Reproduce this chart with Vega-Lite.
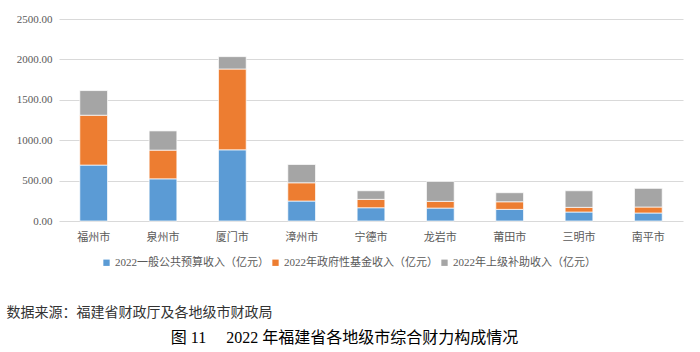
{
  "$schema": "https://vega.github.io/schema/vega-lite/v6.json",
  "width": 624,
  "height": 202,
  "autosize": "none",
  "padding": {"left": 59, "top": 19, "right": 17, "bottom": 131},
  "background": "white",
  "config": {"view": {"stroke": null}, "font": "Liberation Serif"},
  "title": {
    "text": "图 11\u00a0\u00a0\u00a0\u00a0 2022 年福建省各地级市综合财力构成情况",
    "orient": "bottom",
    "anchor": "middle",
    "frame": "bounds",
    "font": "Liberation Serif, Noto Sans CJK SC",
    "fontSize": 16,
    "fontWeight": "normal",
    "color": "#000000",
    "offset": 11
  },
  "data": {
    "values": [
      {"city": "福州市", "type": "2022一般公共预算收入（亿元）", "k": 1, "value": 692},
      {"city": "福州市", "type": "2022年政府性基金收入（亿元）", "k": 2, "value": 617},
      {"city": "福州市", "type": "2022年上级补助收入（亿元）", "k": 3, "value": 305},
      {"city": "泉州市", "type": "2022一般公共预算收入（亿元）", "k": 1, "value": 522},
      {"city": "泉州市", "type": "2022年政府性基金收入（亿元）", "k": 2, "value": 355},
      {"city": "泉州市", "type": "2022年上级补助收入（亿元）", "k": 3, "value": 238},
      {"city": "厦门市", "type": "2022一般公共预算收入（亿元）", "k": 1, "value": 881},
      {"city": "厦门市", "type": "2022年政府性基金收入（亿元）", "k": 2, "value": 1000},
      {"city": "厦门市", "type": "2022年上级补助收入（亿元）", "k": 3, "value": 153},
      {"city": "漳州市", "type": "2022一般公共预算收入（亿元）", "k": 1, "value": 247},
      {"city": "漳州市", "type": "2022年政府性基金收入（亿元）", "k": 2, "value": 226},
      {"city": "漳州市", "type": "2022年上级补助收入（亿元）", "k": 3, "value": 227},
      {"city": "宁德市", "type": "2022一般公共预算收入（亿元）", "k": 1, "value": 164},
      {"city": "宁德市", "type": "2022年政府性基金收入（亿元）", "k": 2, "value": 104},
      {"city": "宁德市", "type": "2022年上级补助收入（亿元）", "k": 3, "value": 106},
      {"city": "龙岩市", "type": "2022一般公共预算收入（亿元）", "k": 1, "value": 160},
      {"city": "龙岩市", "type": "2022年政府性基金收入（亿元）", "k": 2, "value": 83},
      {"city": "龙岩市", "type": "2022年上级补助收入（亿元）", "k": 3, "value": 247},
      {"city": "莆田市", "type": "2022一般公共预算收入（亿元）", "k": 1, "value": 144},
      {"city": "莆田市", "type": "2022年政府性基金收入（亿元）", "k": 2, "value": 94},
      {"city": "莆田市", "type": "2022年上级补助收入（亿元）", "k": 3, "value": 112},
      {"city": "三明市", "type": "2022一般公共预算收入（亿元）", "k": 1, "value": 111},
      {"city": "三明市", "type": "2022年政府性基金收入（亿元）", "k": 2, "value": 58},
      {"city": "三明市", "type": "2022年上级补助收入（亿元）", "k": 3, "value": 205},
      {"city": "南平市", "type": "2022一般公共预算收入（亿元）", "k": 1, "value": 99},
      {"city": "南平市", "type": "2022年政府性基金收入（亿元）", "k": 2, "value": 74},
      {"city": "南平市", "type": "2022年上级补助收入（亿元）", "k": 3, "value": 231}
    ]
  },
  "mark": {"type": "bar", "stroke": "white", "strokeWidth": 0.7},
  "encoding": {
    "x": {
      "field": "city",
      "type": "nominal",
      "sort": null,
      "scale": {"paddingInner": 0.6, "paddingOuter": 0.3},
      "axis": {
        "title": "数据来源：福建省财政厅及各地级市财政局",
        "titleFont": "Liberation Serif, Noto Sans CJK SC",
        "titleFontSize": 14,
        "titleFontWeight": "normal",
        "titleColor": "#333333",
        "titleAnchor": "start",
        "titleAlign": "left",
        "titleBaseline": "middle",
        "titleX": -53,
        "titleY": 91,
        "labelAngle": 0,
        "labelFont": "Liberation Serif, Noto Sans CJK SC",
        "labelFontSize": 11,
        "labelColor": "#595959",
        "labelPadding": 10,
        "ticks": false,
        "domain": false
      }
    },
    "y": {
      "field": "value",
      "type": "quantitative",
      "stack": "zero",
      "scale": {"domain": [0, 2500], "nice": false},
      "axis": {
        "title": null,
        "values": [0, 500, 1000, 1500, 2000, 2500],
        "format": ".2f",
        "labelFont": "Liberation Serif",
        "labelFontSize": 11,
        "labelColor": "#595959",
        "labelPadding": 7,
        "ticks": false,
        "domain": false,
        "gridColor": "#d9d9d9",
        "gridWidth": 1
      }
    },
    "color": {
      "field": "type",
      "type": "nominal",
      "scale": {
        "domain": ["2022一般公共预算收入（亿元）", "2022年政府性基金收入（亿元）", "2022年上级补助收入（亿元）"],
        "range": ["#5b9bd5", "#ed7d31", "#a5a5a5"]
      },
      "legend": {
        "title": null,
        "orient": "none",
        "direction": "horizontal",
        "legendX": 42,
        "legendY": 238,
        "symbolType": "square",
        "symbolSize": 40,
        "symbolStrokeWidth": 0,
        "labelFont": "Liberation Serif, Noto Sans CJK SC",
        "labelFontSize": 11,
        "labelColor": "#595959",
        "labelOffset": 3,
        "columnPadding": 1
      }
    },
    "order": {"field": "k", "type": "quantitative"}
  }
}
